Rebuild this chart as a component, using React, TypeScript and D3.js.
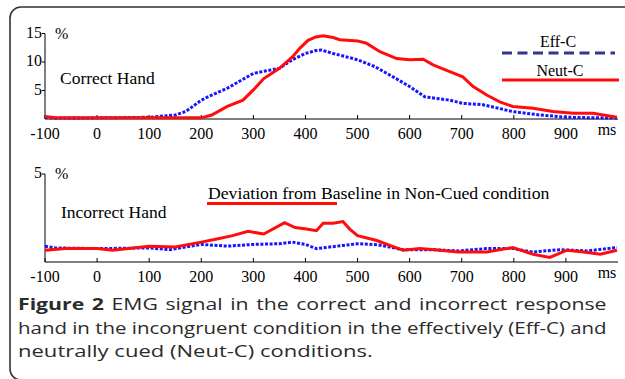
import React, { useEffect, useRef } from 'react';
import * as d3 from 'd3';

// time (ms) and EMG (%)
const topEffT = [-100, -80, 0, 100, 150, 170, 200, 220, 250, 300, 350, 375, 400, 420, 431, 453, 500, 533, 568, 600, 629, 677, 702, 741, 798, 850, 902, 998];
const topEffV = [0.3, 0.15, 0.2, 0.3, 0.7, 1.3, 3.3, 4.2, 5.4, 8.0, 8.9, 10.4, 11.5, 12.0, 12.1, 11.5, 10.4, 9.2, 7.4, 5.7, 3.9, 3.3, 2.75, 2.5, 1.3, 0.7, 0.3, 0.15];

const topNeutT = [-100, -80, 0, 100, 200, 220, 250, 280, 300, 320, 350, 375, 389, 405, 420, 434, 453, 466, 500, 517, 543, 575, 600, 626, 645, 677, 702, 722, 748, 773, 798, 837, 875, 914, 952, 998];
const topNeutV = [0.45, 0.2, 0.2, 0.2, 0.2, 0.7, 2.2, 3.3, 5.1, 7.1, 8.9, 10.9, 12.4, 13.8, 14.4, 14.6, 14.3, 13.9, 13.7, 13.3, 11.8, 10.6, 10.4, 10.5, 9.5, 8.3, 7.4, 5.7, 4.2, 3.0, 2.2, 1.9, 1.3, 1.0, 1.0, 0.3];

const botEffT = [-100, -80, 0, 100, 140, 200, 250, 300, 350, 375, 400, 421, 472, 500, 537, 562, 587, 645, 692, 748, 798, 837, 888, 940, 998];
const botEffV = [0.9, 0.8, 0.76, 0.8, 0.7, 1.0, 0.9, 1.0, 1.04, 1.13, 1.0, 0.76, 0.94, 1.04, 0.98, 0.85, 0.7, 0.7, 0.63, 0.76, 0.76, 0.57, 0.7, 0.63, 0.82];

const botNeutT = [-100, -60, 0, 30, 100, 150, 200, 230, 260, 290, 320, 360, 380, 402, 421, 434, 453, 472, 485, 500, 537, 562, 587, 620, 658, 692, 748, 798, 837, 869, 902, 934, 966, 998];
const botNeutV = [0.67, 0.76, 0.76, 0.67, 0.89, 0.85, 1.13, 1.31, 1.5, 1.74, 1.59, 2.24, 1.96, 1.87, 1.78, 2.2, 2.2, 2.3, 1.87, 1.5, 1.22, 0.94, 0.67, 0.76, 0.67, 0.57, 0.57, 0.82, 0.44, 0.26, 0.67, 0.57, 0.44, 0.67];

const xTicks = [-100, 0, 100, 200, 300, 400, 500, 600, 700, 800, 900];
const topYTicks = [5, 10, 15];
const botYTicks = [5];

const captionLines = [
  ['Figure 2', ' EMG signal in the correct and incorrect response'],
  ['', 'hand in the incongruent condition in the effectively (Eff-C) and'],
  ['', 'neutrally cued (Neut-C) conditions.'],
];

const serif = '"Liberation Serif", "Times New Roman", serif';
const sans = '"Open Sans", "Noto Sans", sans-serif';

const App: React.FC = () => {
  const svgRef = useRef<SVGSVGElement>(null);

  useEffect(() => {
    if (!svgRef.current) return;
    const svg = d3.select(svgRef.current);
    svg.selectAll('*').remove();

    // Frame
    svg.append('rect')
      .attr('x', 10).attr('y', 7)
      .attr('width', 660).attr('height', 373)
      .attr('rx', 11)
      .attr('fill', 'none')
      .attr('stroke', '#333')
      .attr('stroke-width', 1.6);

    const xScale = d3.scaleLinear().domain([-100, 1000]).range([45, 618]);

    const drawPanel = (
      y0: number, y1: number, yMax: number, yTicks: number[],
      effT: number[], effV: number[], neutT: number[], neutV: number[],
    ) => {
      const yScale = d3.scaleLinear().domain([0, yMax]).range([y0, y1]);
      const g = svg.append('g');

      // y axis
      g.append('line')
        .attr('x1', 45).attr('x2', 45)
        .attr('y1', yScale(yMax)).attr('y2', y0)
        .attr('stroke', '#000').attr('stroke-width', 1);
      yTicks.forEach(t => {
        g.append('line')
          .attr('x1', 42).attr('x2', 45)
          .attr('y1', yScale(t)).attr('y2', yScale(t))
          .attr('stroke', '#000');
        g.append('text')
          .attr('x', 42).attr('y', yScale(t) - 1)
          .attr('dy', '0.32em')
          .attr('text-anchor', 'end')
          .style('font-family', serif).style('font-size', '16px')
          .text(t);
      });
      g.append('text')
        .attr('x', 55).attr('y', yScale(yMax) + 5)
        .style('font-family', serif).style('font-size', '16px')
        .text('%');

      // x axis
      g.append('line')
        .attr('x1', 45).attr('x2', 618)
        .attr('y1', y0).attr('y2', y0)
        .attr('stroke', '#000');
      xTicks.forEach(t => {
        g.append('line')
          .attr('x1', xScale(t)).attr('x2', xScale(t))
          .attr('y1', y0).attr('y2', y0 - 4)
          .attr('stroke', '#000');
        g.append('text')
          .attr('x', xScale(t)).attr('y', y0 + 20)
          .attr('text-anchor', 'middle')
          .style('font-family', serif).style('font-size', '16px')
          .text(t);
      });
      g.append('text')
        .attr('x', 607).attr('y', y0 + 16)
        .attr('text-anchor', 'middle')
        .style('font-family', serif).style('font-size', '16px')
        .text('ms');

      const line = d3.line<[number, number]>()
        .x(d => xScale(d[0]))
        .y(d => yScale(d[1]));

      g.append('path')
        .datum(effT.map((t, i) => [t, effV[i]] as [number, number]))
        .attr('fill', 'none')
        .attr('stroke', '#1515ff')
        .attr('stroke-width', 3)
        .attr('stroke-dasharray', '3,1.6')
        .attr('d', line);

      g.append('path')
        .datum(neutT.map((t, i) => [t, neutV[i]] as [number, number]))
        .attr('fill', 'none')
        .attr('stroke', '#ff0d0d')
        .attr('stroke-width', 3)
        .attr('d', line);
    };

    drawPanel(119, 33.5, 15, topYTicks, topEffT, topEffV, topNeutT, topNeutV);
    drawPanel(262, 174, 5, botYTicks, botEffT, botEffV, botNeutT, botNeutV);

    // Panel labels
    svg.append('text')
      .attr('x', 60).attr('y', 84)
      .style('font-family', serif).style('font-size', '17.5px')
      .text('Correct Hand');
    svg.append('text')
      .attr('x', 61).attr('y', 218)
      .style('font-family', serif).style('font-size', '17.5px')
      .text('Incorrect Hand');

    // Legend
    svg.append('text')
      .attr('x', 558).attr('y', 47)
      .attr('text-anchor', 'middle')
      .style('font-family', serif).style('font-size', '16px')
      .text('Eff-C');
    svg.append('line')
      .attr('x1', 502).attr('x2', 615)
      .attr('y1', 53).attr('y2', 53)
      .attr('stroke', '#333399').attr('stroke-width', 3)
      .attr('stroke-dasharray', '10,5.5');
    svg.append('text')
      .attr('x', 560).attr('y', 76)
      .attr('text-anchor', 'middle')
      .style('font-family', serif).style('font-size', '16px')
      .text('Neut-C');
    svg.append('line')
      .attr('x1', 502).attr('x2', 619)
      .attr('y1', 80).attr('y2', 80)
      .attr('stroke', '#ff0d0d').attr('stroke-width', 3);

    svg.append('text')
      .attr('x', 208).attr('y', 199)
      .style('font-family', serif).style('font-size', '17.7px')
      .text('Deviation from Baseline in Non-Cued condition');
    svg.append('line')
      .attr('x1', 207).attr('x2', 337)
      .attr('y1', 203.5).attr('y2', 203.5)
      .attr('stroke', '#ff0d0d').attr('stroke-width', 3);

    // Caption: glyphs are wider than the font's own, so each line is stretched
    // horizontally; the first line is justified with extra word spacing
    const capX = 18;
    const capW = 589;
    const lastW = 355;
    const texts = captionLines.map(parts => {
      const txt = svg.append('text')
        .attr('x', 0).attr('y', 0)
        .style('font-family', sans).style('font-size', '16.5px')
        .style('fill', '#2b2b2b');
      if (parts[0]) txt.append('tspan').style('font-weight', 'bold').text(parts[0]);
      txt.append('tspan').text(parts[1]);
      return txt;
    });
    const widths = texts.map(t => (t.node() as SVGTextElement).getComputedTextLength());
    const sx2 = capW / widths[1];
    const sx3 = lastW / widths[2];
    const sx1 = Math.min((sx2 + sx3) / 2, capW / widths[0]);
    const scales = [sx1, sx2, sx3];
    texts.forEach((txt, i) => {
      txt.attr('transform', `translate(${capX},${310 + i * 23.5}) scale(${scales[i]},1)`);
      if (i === 0) {
        const parts = captionLines[0];
        const spaces = (parts[0] + parts[1]).split(' ').length - 1;
        txt.style('word-spacing', `${(capW / sx1 - widths[0]) / spaces}px`);
      }
    });
  }, []);

  return (
    <svg
      ref={svgRef}
      width={625}
      height={379}
      style={{ position: 'absolute', left: 0, top: 0, background: '#fff' }}
    />
  );
};

export default App;
